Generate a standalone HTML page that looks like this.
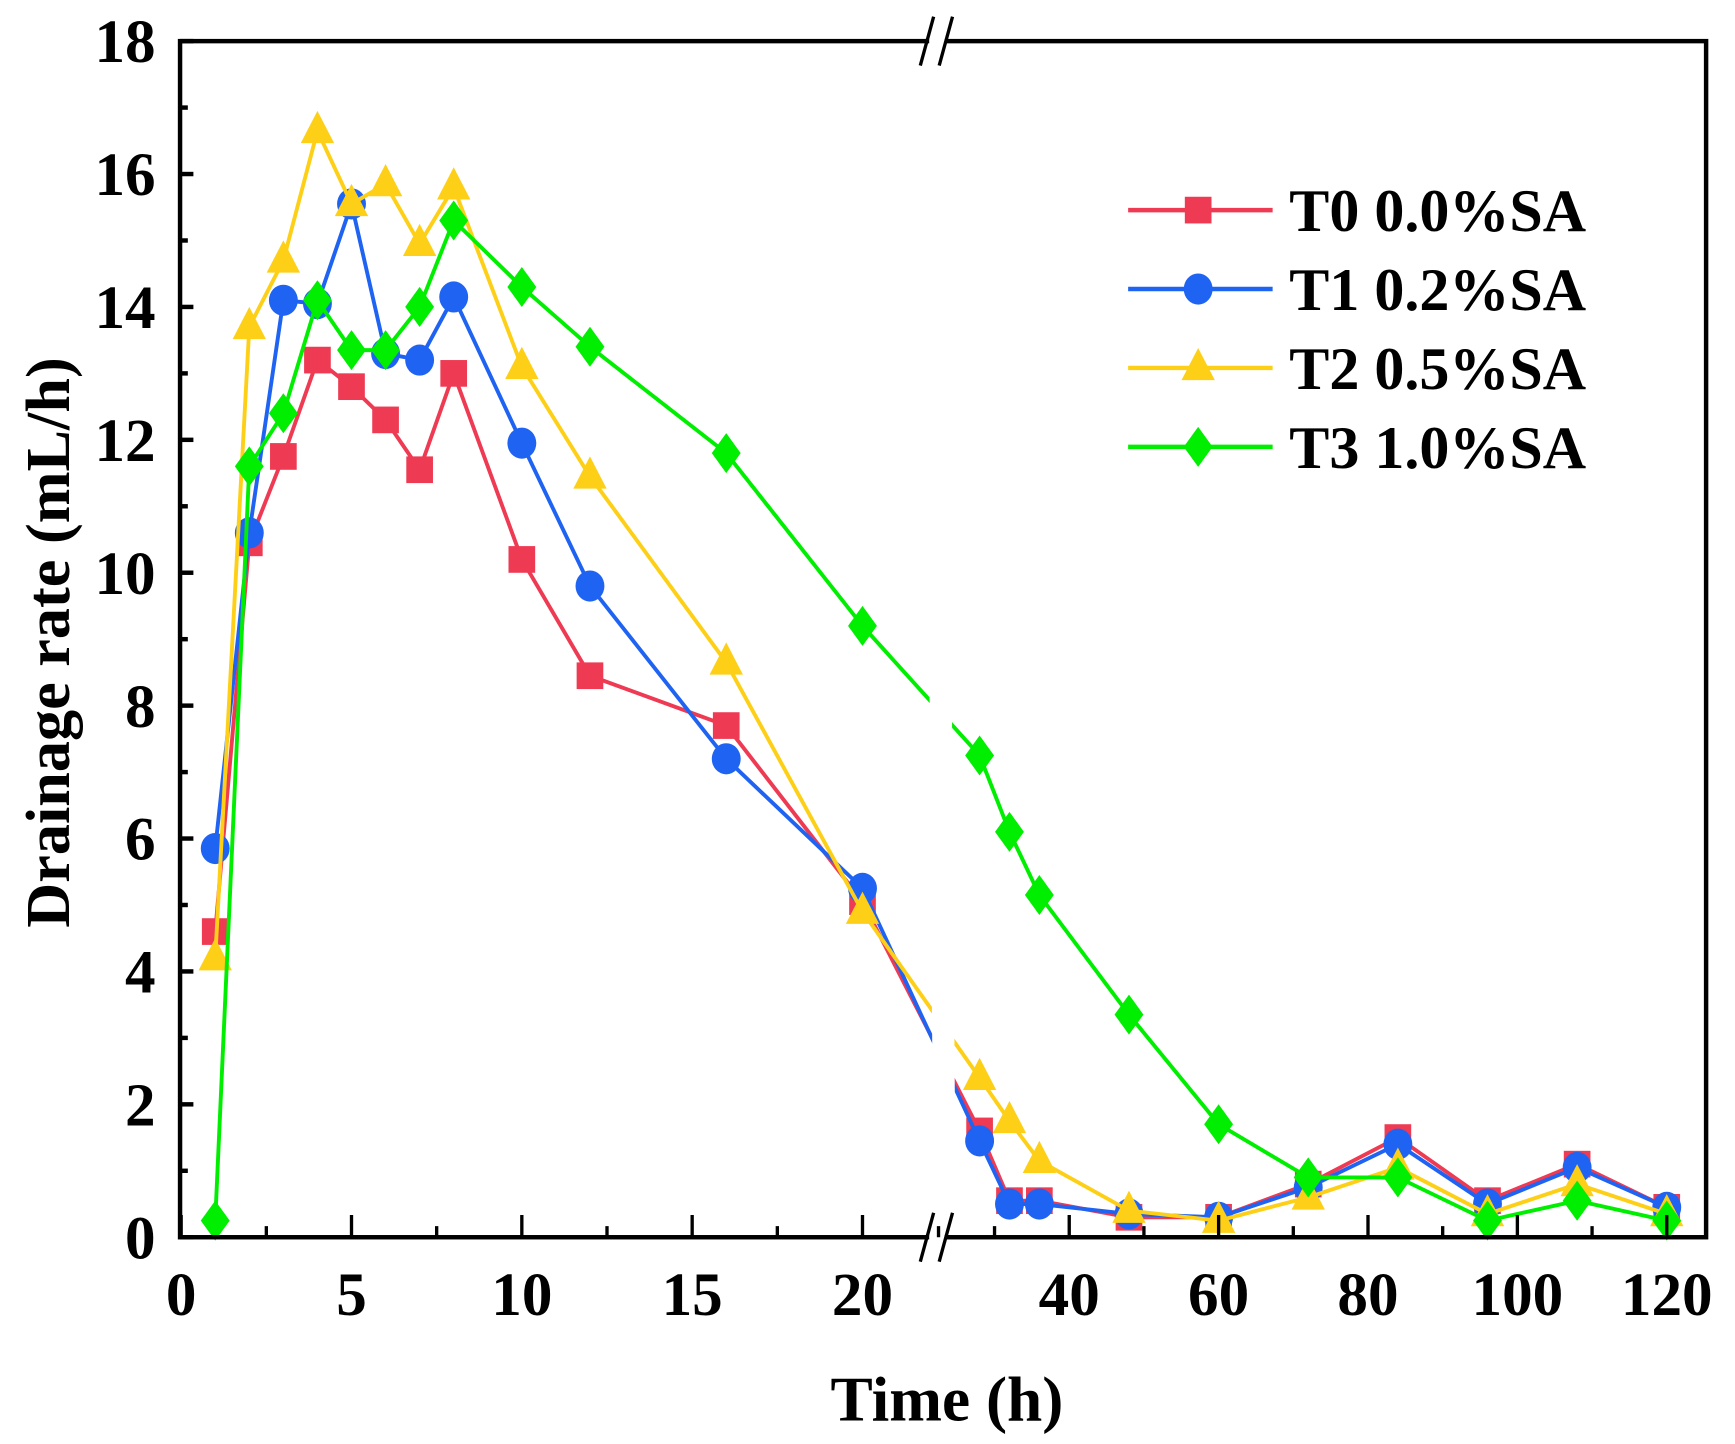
<!DOCTYPE html>
<html><head><meta charset="utf-8"><style>
html,body{margin:0;padding:0;background:#fff;}
svg{display:block;}
text{font-family:"Liberation Serif",serif;font-weight:bold;fill:#000;}
</style></head><body>
<svg id="chart" width="1735" height="1444" viewBox="0 0 1561 1299" preserveAspectRatio="none" xmlns="http://www.w3.org/2000/svg">
<g id="marks"></g>
<g id="axes"></g>
</svg>
<script>
const times = [1,2,3,4,5,6,7,8,10,12,16,20,28,32,36,48,60,72,84,96,108,120];
const seriesNames = ["T0 0.0%SA","T1 0.2%SA","T2 0.5%SA","T3 1.0%SA"];
const t0Values = [4.6,10.45,11.75,13.2,12.8,12.3,11.55,13.0,10.2,8.45,7.7,5.05,1.6,0.55,0.55,0.3,0.3,0.8,1.5,0.55,1.1,0.45];
const t1Values = [5.85,10.6,14.1,14.05,15.55,13.3,13.2,14.15,11.95,9.8,7.2,5.25,1.45,0.5,0.5,0.35,0.3,0.75,1.4,0.5,1.05,0.45];
const t2Values = [4.2,13.7,14.7,16.65,15.55,15.85,14.95,15.8,13.1,11.45,8.65,4.9,2.4,1.75,1.15,0.4,0.25,0.6,1.05,0.35,0.8,0.35];
const t3Values = [0.25,11.6,12.4,14.1,13.35,13.35,14.0,15.3,14.3,13.4,11.8,9.2,7.25,6.1,5.15,3.35,1.7,0.9,0.9,0.25,0.55,0.25];
const yTicks = [0,2,4,6,8,10,12,14,16,18];
const xTicksLeft = [0,5,10,15,20];
const xTicksRight = [40,60,80,100,120];

const L=162,R=1535,T=37,B=1113;
const NS="http://www.w3.org/2000/svg";
function y(v){return B-(B-T)*v/18;}
function x(t){return t<=22? 163+30.65*t : 962+(t-40)*6.72;}
function el(tag,attrs,parent){const e=document.createElementNS(NS,tag);for(const k in attrs)e.setAttribute(k,attrs[k]);parent.appendChild(e);return e;}
const marks=document.getElementById('marks'), axes=document.getElementById('axes');
const colors=["#ee3a52","#1f63f2","#fdd017","#00ee00"];
const data=[t0Values,t1Values,t2Values,t3Values];
const shapes=["square","circle","triangle","diamond"];
function marker(shape,cx,cy,c,parent){
  if(shape==="square") return el('rect',{x:cx-12,y:cy-12,width:24,height:24,fill:c},parent);
  if(shape==="circle") return el('ellipse',{cx:cx,cy:cy,rx:13,ry:14,fill:c},parent);
  if(shape==="triangle") return el('polygon',{points:`${cx},${cy-18} ${cx+15},${cy+11} ${cx-15},${cy+11}`,fill:c},parent);
  return el('polygon',{points:`${cx},${cy-18} ${cx+13},${cy} ${cx},${cy+18} ${cx-13},${cy}`,fill:c},parent);
}
data.forEach((vals,si)=>{
  const g=el('g',{},marks);
  
  
  const pts=vals.map((v,i)=>x(times[i])+','+y(v)).join(' ');
  const line=el('polyline',{points:pts,fill:'none',stroke:colors[si],'stroke-width':3.5},g);
  
  
  vals.forEach((v,i)=>{
    const m=marker(shapes[si],x(times[i]),y(v),colors[si],g);
    
    
  });
});
const gap=el('polygon',{points:`832,${T+3} 852,${T+3} 860,${B-3} 840,${B-3}`,fill:'#fff'},marks);


const frame=el('rect',{x:L,y:T,width:R-L,height:B-T,fill:'none',stroke:'#000','stroke-width':4},axes);


[T,B].forEach(yy=>{
  const w=el('rect',{x:836,y:yy-5,width:14,height:10,fill:'#fff'},axes);
  
  
  [834,851].forEach(bx=>{
    const l=el('line',{x1:bx-6,y1:yy+22,x2:bx+6,y2:yy-22,stroke:'#000','stroke-width':3},axes);
    
    
  });
});
yTicks.forEach(v=>{
  const t=el('line',{x1:L,y1:y(v),x2:L+12,y2:y(v),stroke:'#000','stroke-width':4},axes);
  
  
  const lb=el('text',{x:L-22,y:y(v)+19,'text-anchor':'end','font-size':55},axes);
  lb.textContent=v;
  
  
  if(v<18){
    const m=el('line',{x1:L,y1:y(v+1),x2:L+7,y2:y(v+1),stroke:'#000','stroke-width':4},axes);
    
    
  }
});
xTicksLeft.forEach(v=>{
  const t=el('line',{x1:x(v),y1:B,x2:x(v),y2:B-20,stroke:'#000','stroke-width':3},axes);
  
  
  const m=el('line',{x1:x(v+2.5),y1:B,x2:x(v+2.5),y2:B-10,stroke:'#000','stroke-width':3},axes);
  
  
  const lb=el('text',{x:x(v),y:B+70,'text-anchor':'middle','font-size':55},axes);
  lb.textContent=v;
  
  
});
xTicksRight.forEach(v=>{
  const t=el('line',{x1:x(v),y1:B,x2:x(v),y2:B-20,stroke:'#000','stroke-width':3},axes);
  
  
  const m=el('line',{x1:x(v-10),y1:B,x2:x(v-10),y2:B-10,stroke:'#000','stroke-width':3},axes);
  
  
  const lb=el('text',{x:x(v),y:B+70,'text-anchor':'middle','font-size':55},axes);
  lb.textContent=v;
  
  
});
const xt=el('text',{x:852,y:1278,'text-anchor':'middle','font-size':57},axes);
xt.textContent='Time (h)';


const yt=el('text',{x:0,y:0,'text-anchor':'middle','font-size':56,transform:'translate(62,578) rotate(-90)'},axes);
yt.textContent='Drainage rate (mL/h)';


seriesNames.forEach((n,i)=>{
  const ly=189+i*71;
  const g=el('g',{},axes);
  
  
  el('line',{x1:1015,y1:ly,x2:1145,y2:ly,stroke:colors[i],'stroke-width':4},g);
  marker(shapes[i],1078,ly,colors[i],g);
  const tx=el('text',{x:1160,y:ly+19,'font-size':54},g);
  tx.textContent=n;
});
</script>
</body></html>
